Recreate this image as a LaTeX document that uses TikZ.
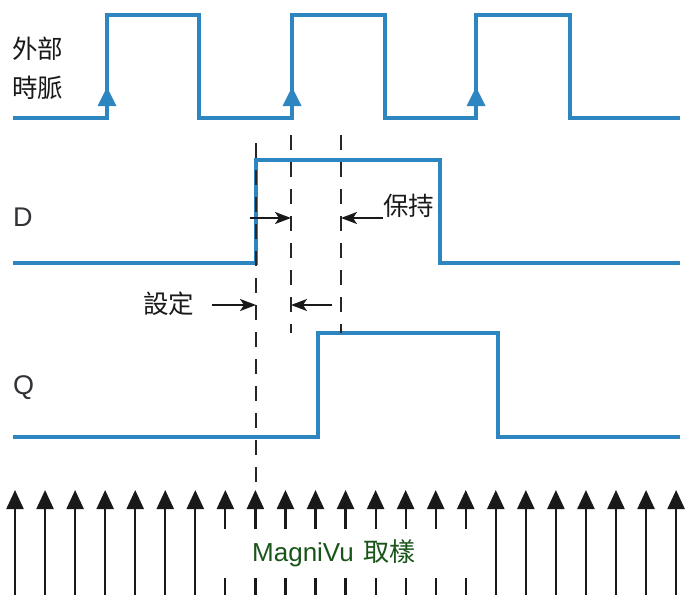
\documentclass[tikz,border=0pt]{standalone}
\usepackage{fontspec}
\setmainfont{Liberation Sans}
\newfontfamily\cjk{Noto Sans CJK TC}
\usetikzlibrary{arrows.meta}
\definecolor{sigblue}{RGB}{46,134,193}
\definecolor{labgray}{RGB}{50,50,55}
\definecolor{labgreen}{RGB}{25,85,25}
\begin{document}
\begin{tikzpicture}[x=1pt,y=-1pt,
  signal/.style={draw=sigblue,line width=4.6pt,line join=miter},
  edgetip/.style={fill=sigblue},
  guide/.style={draw=black!85,line width=1.4pt,dash pattern=on 15pt off 12pt},
  dimarrow/.style={draw=black!90,line width=2pt,-{Stealth[length=16pt,width=12pt,inset=4pt]}},
  sample/.style={draw=black!90,line width=2.2pt},
  sampletip/.style={sample,-{Triangle[length=19pt,width=17pt]}},
  lab/.style={inner sep=0pt,anchor=west},
  cjklab/.style={lab,font=\cjk\fontsize{25.5pt}{25.5pt}\selectfont,text=black!90},
  siglab/.style={lab,font=\fontsize{27pt}{27pt}\selectfont,text=labgray}]
\useasboundingbox (0,0) rectangle (686,595);

% clock
\draw[signal] (13,118) -- (107,118) -- (107,15) -- (199,15) -- (199,118)
  -- (292,118) -- (292,15) -- (385,15) -- (385,118)
  -- (476,118) -- (476,15) -- (570,15) -- (570,118) -- (680,118);
\foreach \x in {107,292,476}
  \fill[edgetip] (\x,87) -- (\x+9.5,106) -- (\x-9.5,106) -- cycle;

% D
\draw[signal] (13,263) -- (256,263) -- (256,160) -- (440,160) -- (440,263) -- (680,263);
% Q
\draw[signal] (13,437) -- (318,437) -- (318,333) -- (498,333) -- (498,437) -- (680,437);

% guides
\coordinate (g1a) at (256,143); \coordinate (g1b) at (256,482);
\coordinate (g2a) at (291,135); \coordinate (g2b) at (291,333);
\coordinate (g3a) at (341,135); \coordinate (g3b) at (341,333);
\draw[guide] (g1a) -- (g1b);
\draw[guide] (g2a) -- (g2b);
\draw[guide] (g3a) -- (g3b);

% labels
\node[cjklab] (ext1) at (12,49) {外部};
\node[cjklab] (ext2) at (12,88) {時脈};
\node[siglab] (dlab) at (13,217) {D};
\node[siglab] (qlab) at (13,388) {Q};
\node[cjklab] (hold) at (383,206) {保持};
\node[cjklab] (setup) at (143,304) {設定};

% dimension arrows
\coordinate (h1) at (250,218); \coordinate (h1t) at (291,218);
\coordinate (h2) at (383,218); \coordinate (h2t) at (341,218);
\coordinate (s1) at (212,305); \coordinate (s1t) at (256,305);
\coordinate (s2) at (332,305); \coordinate (s2t) at (291,305);
\draw[dimarrow] (h1) -- (h1t);
\draw[dimarrow] (h2) -- (h2t);
\draw[dimarrow] (s1) -- (s1t);
\draw[dimarrow] (s2) -- (s2t);

% sampling arrows
\foreach \k in {0,...,22}{
  \pgfmathsetmacro{\xx}{15+30.05*\k}
  \ifnum\k<7
    \draw[sampletip] (\xx,595) -- (\xx,490);
  \else\ifnum\k>15
    \draw[sampletip] (\xx,595) -- (\xx,490);
  \else
    \draw[sampletip] (\xx,529) -- (\xx,490);
    \draw[sample] (\xx,578) -- (\xx,595);
  \fi\fi
}
\node[lab,text=labgreen] (mv) at (252,553)
  {\fontsize{26pt}{26pt}\selectfont MagniVu\hspace{10pt}{\cjk 取樣}};
\end{tikzpicture}
\end{document}
